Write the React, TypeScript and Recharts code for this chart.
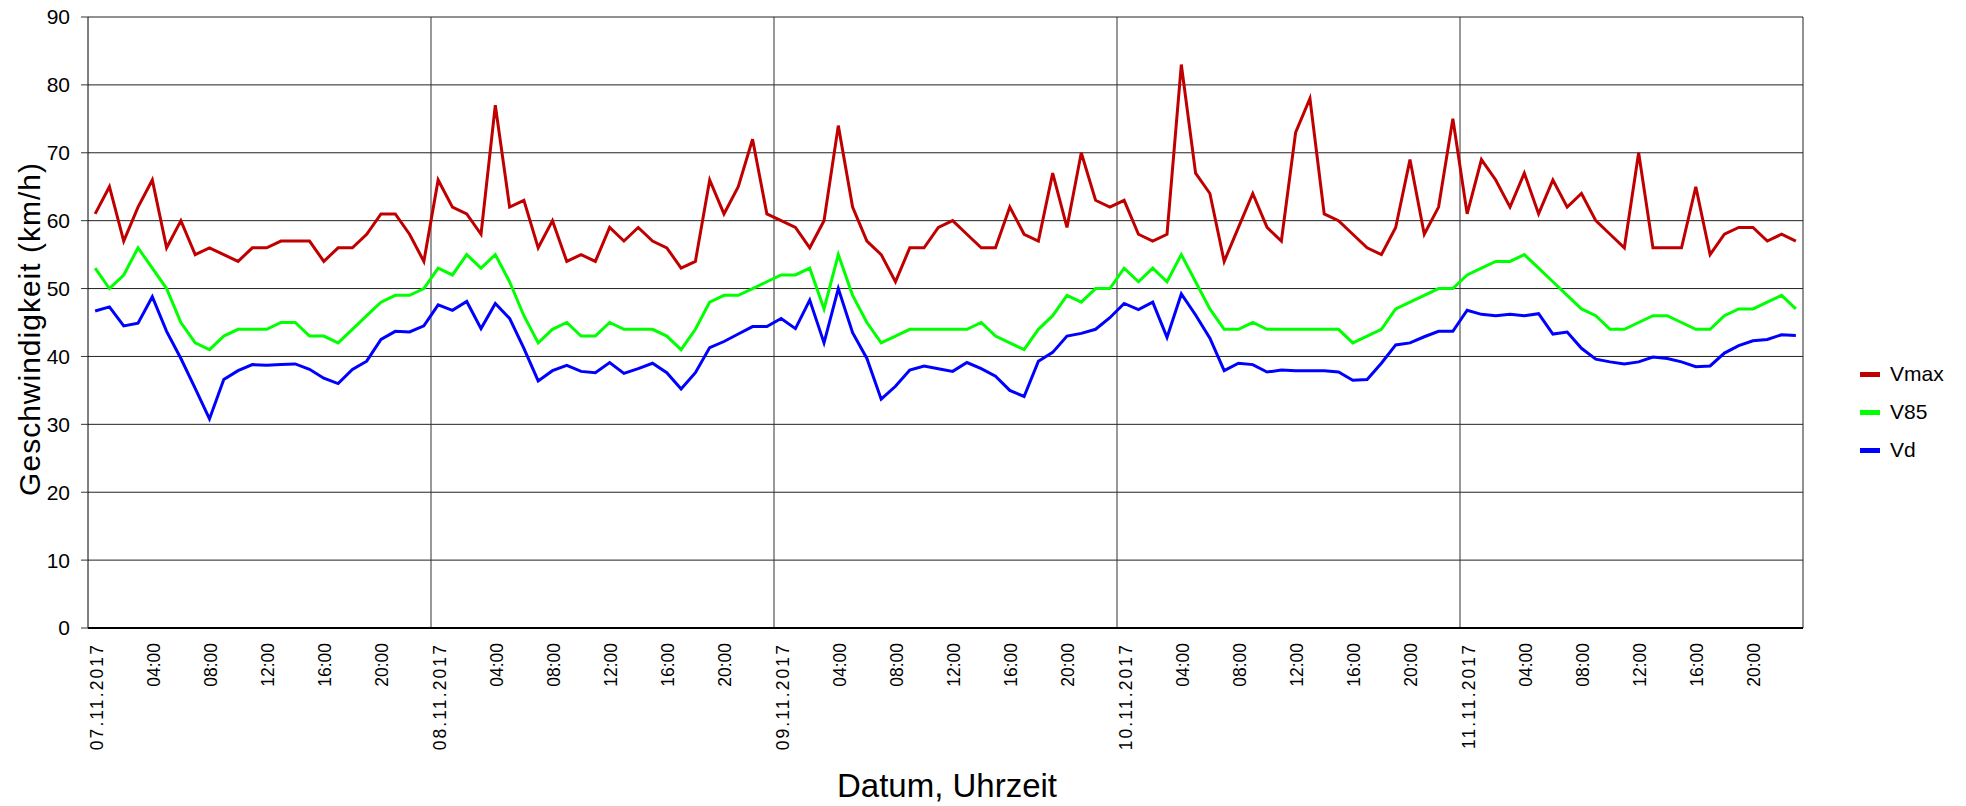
import React from "react";
import {
  LineChart,
  Line,
  XAxis,
  YAxis,
  CartesianGrid,
  ReferenceLine,
} from "recharts";

// 5 days, hourly values (00:00 .. 23:00)
const days = ["07.11.2017", "08.11.2017", "09.11.2017", "10.11.2017", "11.11.2017"];
const hourLabels = ["", "04:00", "08:00", "12:00", "16:00", "20:00"];
const yTicks = [0, 10, 20, 30, 40, 50, 60, 70, 80, 90];

const vmax = [
  61, 65, 57, 62, 66, 56, 60, 55, 56, 55, 54, 56, 56, 57, 57, 57, 54, 56, 56, 58, 61, 61, 58, 54,
  66, 62, 61, 58, 77, 62, 63, 56, 60, 54, 55, 54, 59, 57, 59, 57, 56, 53, 54, 66, 61, 65, 72, 61,
  60, 59, 56, 60, 74, 62, 57, 55, 51, 56, 56, 59, 60, 58, 56, 56, 62, 58, 57, 67, 59, 70, 63, 62,
  63, 58, 57, 58, 83, 67, 64, 54, 59, 64, 59, 57, 73, 78, 61, 60, 58, 56, 55, 59, 69, 58, 62, 75,
  61, 69, 66, 62, 67, 61, 66, 62, 64, 60, 58, 56, 70, 56, 56, 56, 65, 55, 58, 59, 59, 57, 58, 57,
];

const v85 = [
  53, 50, 52, 56, 53, 50, 45, 42, 41, 43, 44, 44, 44, 45, 45, 43, 43, 42, 44, 46, 48, 49, 49, 50,
  53, 52, 55, 53, 55, 51, 46, 42, 44, 45, 43, 43, 45, 44, 44, 44, 43, 41, 44, 48, 49, 49, 50, 51,
  52, 52, 53, 47, 55, 49, 45, 42, 43, 44, 44, 44, 44, 44, 45, 43, 42, 41, 44, 46, 49, 48, 50, 50,
  53, 51, 53, 51, 55, 51, 47, 44, 44, 45, 44, 44, 44, 44, 44, 44, 42, 43, 44, 47, 48, 49, 50, 50,
  52, 53, 54, 54, 55, 53, 51, 49, 47, 46, 44, 44, 45, 46, 46, 45, 44, 44, 46, 47, 47, 48, 49, 47,
];

const vd = [
  46.7, 47.3, 44.5, 44.9, 48.8, 43.7, 39.7, 35.3, 30.8, 36.6, 37.9, 38.8, 38.7, 38.8, 38.9, 38.1, 36.8, 36.0, 38.1, 39.3, 42.5, 43.7, 43.6, 44.5,
  47.6, 46.8, 48.1, 44.1, 47.8, 45.6, 41.2, 36.4, 37.9, 38.7, 37.8, 37.6, 39.1, 37.5, 38.2, 39.0, 37.6, 35.2, 37.6, 41.3, 42.2, 43.3, 44.4, 44.4,
  45.6, 44.1, 48.3, 42.0, 50.0, 43.5, 39.7, 33.7, 35.6, 38.0, 38.6, 38.2, 37.8, 39.1, 38.2, 37.1, 35.0, 34.1, 39.3, 40.6, 43.0, 43.4, 44.0, 45.7,
  47.8, 46.9, 48.0, 42.8, 49.2, 46.1, 42.7, 37.9, 39.0, 38.8, 37.7, 38.0, 37.9, 37.9, 37.9, 37.7, 36.5, 36.6, 39.0, 41.7, 42.0, 42.9, 43.7, 43.7,
  46.8, 46.2, 46.0, 46.2, 46.0, 46.3, 43.3, 43.6, 41.2, 39.6, 39.2, 38.9, 39.2, 39.9, 39.7, 39.2, 38.5, 38.6, 40.5, 41.6, 42.3, 42.5, 43.2, 43.1,
];

const series = [
  { key: "vmax", name: "Vmax", color: "#C00000" },
  { key: "v85", name: "V85", color: "#00FF00" },
  { key: "vd", name: "Vd", color: "#0000FF" },
];

const FONT = "'Liberation Sans', Arial, Helvetica, sans-serif";
const HOURS = 24;

// each hour sits in the middle of its slot, day lines sit on slot edges
const data = vmax.map((v, i) => ({ pos: i + 0.5, vmax: v, v85: v85[i], vd: vd[i] }));

const tickText: Record<number, string> = {};
days.forEach((d, di) => {
  hourLabels.forEach((h, hi) => {
    tickText[di * HOURS + hi * 4 + 0.5] = hi === 0 ? d : h;
  });
});
const xTicks = Object.keys(tickText).map(Number).sort((a, b) => a - b);
const dayLines = days.map((_, i) => i * HOURS).filter((x) => x > 0);

function TimeTick(props: any) {
  const { x, y, payload } = props;
  const label = tickText[payload.value] ?? "";
  const isDate = label.length > 5;
  const tx = x + 7.5;
  return (
    <text
      x={tx}
      y={y}
      transform={`rotate(-90 ${tx} ${y})`}
      textAnchor="end"
      fontSize={17.5}
      letterSpacing={isDate ? 2.1 : 0}
      fontFamily={FONT}
      fill="#000"
    >
      {label}
    </text>
  );
}

export default function App() {
  return (
    <div style={{ position: "absolute", left: 0, top: 0, width: 1966, height: 806, background: "#fff" }}>
      <LineChart
        width={1966}
        height={806}
        data={data}
        margin={{ top: 17, right: 163, bottom: 0, left: 0 }}
      >
        <CartesianGrid vertical={false} stroke="#222" strokeWidth={1} />
        <XAxis
          dataKey="pos"
          type="number"
          domain={[0, days.length * HOURS]}
          ticks={xTicks}
          interval={0}
          height={178}
          tickLine={false}
          tickSize={0}
          tickMargin={15}
          axisLine={{ stroke: "#000", strokeWidth: 2 }}
          tick={<TimeTick />}
          label={{
            content: () => (
              <text x={947} y={797} textAnchor="middle" fontSize={33} fontFamily={FONT} fill="#000">
                Datum, Uhrzeit
              </text>
            ),
          }}
        />
        <YAxis
          domain={[0, 90]}
          ticks={yTicks}
          interval={0}
          width={88}
          tickSize={7}
          tickMargin={11}
          tickLine={{ stroke: "#333" }}
          axisLine={{ stroke: "#000" }}
          tick={{ fontSize: 21, fill: "#000", fontFamily: FONT }}
          label={{
            content: () => (
              <text
                x={40}
                y={329}
                transform="rotate(-90 40 329)"
                textAnchor="middle"
                fontSize={30}
                letterSpacing={1}
                fontFamily={FONT}
                fill="#000"
              >
                Geschwindigkeit (km/h)
              </text>
            ),
          }}
        />
        {dayLines.map((x) => (
          <ReferenceLine key={x} x={x} stroke="#333" strokeWidth={1} />
        ))}
        <ReferenceLine x={days.length * HOURS} stroke="#222" strokeWidth={1} />
        {series.map((s) => (
          <Line
            key={s.key}
            type="linear"
            dataKey={s.key}
            name={s.name}
            stroke={s.color}
            strokeWidth={3}
            dot={false}
            activeDot={false}
            isAnimationActive={false}
          />
        ))}
      </LineChart>
      <div style={{ position: "absolute", left: 1860, top: 355, fontFamily: FONT }}>
        {series.map((s) => (
          <div key={s.key} style={{ display: "flex", alignItems: "center", height: 38 }}>
            <div style={{ width: 20, height: 5, background: s.color, marginRight: 10 }} />
            <span style={{ fontSize: 21, lineHeight: "38px", color: "#000" }}>{s.name}</span>
          </div>
        ))}
      </div>
    </div>
  );
}
